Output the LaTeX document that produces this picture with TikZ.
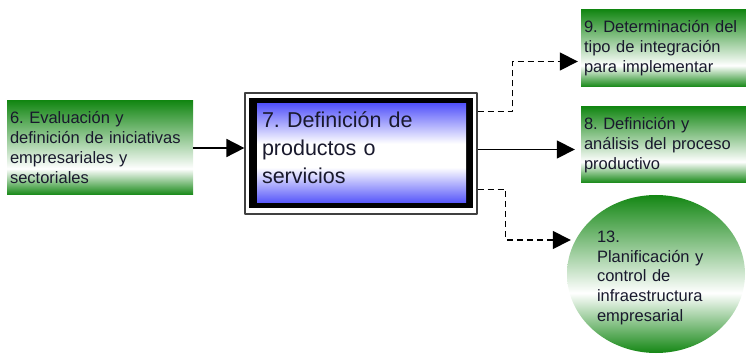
\documentclass[tikz,border=0pt]{standalone}
\usepackage{fontspec}
\setmainfont{Liberation Sans}
\usetikzlibrary{arrows.meta,shapes.geometric}
\definecolor{gdark}{RGB}{20,135,20}
\definecolor{bdark}{RGB}{85,85,250}
\definecolor{txt}{RGB}{25,25,45}
\pgfdeclareverticalshading{greenfade}{100bp}{color(0bp)=(gdark); color(25bp)=(gdark);
  color(39bp)=(white); color(75bp)=(gdark); color(100bp)=(gdark)}
\pgfdeclareverticalshading{roundfade}{100bp}{color(0bp)=(gdark); color(25bp)=(gdark);
  color(44bp)=(white); color(75bp)=(gdark); color(100bp)=(gdark)}
\pgfdeclareverticalshading{bluefade}{100bp}{color(0bp)=(bdark); color(25bp)=(bdark);
  color(43bp)=(white); color(55bp)=(white); color(75bp)=(bdark); color(100bp)=(bdark)}
\tikzset{
  task/.style={shade,shading=greenfade,text=txt,align=left,inner xsep=3pt,
    font=\fontsize{16.5}{20}\selectfont},
  mainbox/.style={draw=black!75,line width=1.2pt,text=txt,align=left,inner xsep=17pt,
    minimum width=232pt,minimum height=121pt,text width=198pt,
    font=\fontsize{21.5}{28}\selectfont,
    path picture={
      \fill[black] ([shift={(4pt,-5pt)}]path picture bounding box.north west)
        rectangle ([shift={(-4pt,5.5pt)}]path picture bounding box.south east);
      \shade[shading=bluefade] ([shift={(12pt,-11pt)}]path picture bounding box.north west)
        rectangle ([shift={(-11pt,11pt)}]path picture bounding box.south east);
    }},
  flow/.style={line width=1.7pt,-{Triangle[length=18pt,width=18pt]}},
  dflow/.style={flow,line width=1.5pt,dash pattern=on 6pt off 4pt}
}
\frenchspacing
\begin{document}
\begin{tikzpicture}[x=1pt,y=-1pt,line join=round]
  \useasboundingbox (0,0) rectangle (746,355);
  \node[task,text width=180pt,minimum height=94pt] (b6) at (100,148)
    {6. Evaluación y\\definición de iniciativas\\empresariales y\\sectoriales};
  \node[mainbox,text height=20pt,text depth=71.6pt] (b7) at (361,153.5)
    {7. Definición de\\productos o\\servicios};
  \node[task,text width=159pt,minimum height=77pt] (b9) at (663.5,48.5)
    {9. Determinación del\\tipo de integración\\para implementar};
  \node[task,text width=159pt,minimum height=76pt] (b8) at (663.5,145)
    {8. Definición y\\análisis del proceso\\productivo};
  \node[ellipse,shade,shading=roundfade,text=txt,align=left,text width=118pt,
    minimum width=178pt,minimum height=158pt,inner sep=0pt,
    font=\fontsize{16.5}{19.5}\selectfont,text height=16pt,text depth=78pt] (b13) at (656,274)
    {13.\\Planificación y\\control de\\infraestructura\\empresarial};
  \draw[flow] (b6.east) -- (b6.east -| b7.west);
  \coordinate (o8) at ([yshift=4pt]b7.east);
  \coordinate (t8) at ([xshift=-6pt]b8.west);
  \draw[flow] (o8) -- (o8 -| t8);
  \coordinate (o9) at ([yshift=42pt]b7.east);
  \coordinate (t9) at ([xshift=-3pt,yshift=-13pt]b9.west);
  \draw[dflow] (o9) -- ++(35,0) |- (t9);
  \coordinate (o13) at ([yshift=-36pt]b7.east);
  \coordinate (t13) at ([xshift=4pt,yshift=34pt]b13.west);
  \draw[dflow] (o13) -- ++(28,0) |- (t13);
\end{tikzpicture}
\end{document}
